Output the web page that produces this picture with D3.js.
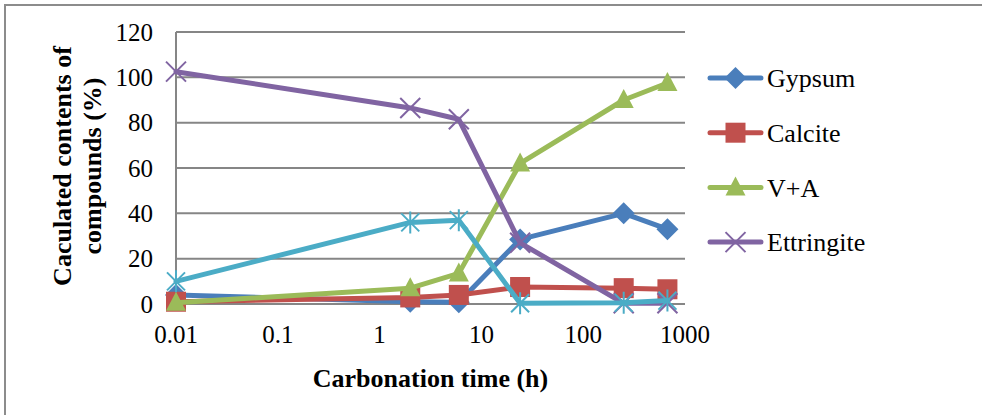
<!DOCTYPE html>
<html>
<head>
<meta charset="utf-8">
<script src="https://cdn.jsdelivr.net/npm/d3@7"></script>
<style>
  body { margin: 0; background: #fff; }
  svg text { font-family: "Times New Roman", "Liberation Serif", "DejaVu Serif", serif; }
</style>
</head>
<body>
<div id="chart"></div>
<script>
const hours = [0.01, 2, 6, 24, 250, 672];
const gypsum = [4, 1, 0.8, 28.5, 40, 33];
const calcite = [1, 2.9, 4, 7.5, 7, 6.5];
const vPlusA = [0.5, 7, 13.5, 62, 90, 97.5];
const ettringite = [102.5, 86.5, 81.5, 27, 0.3, 0.3];
const series5 = [10, 36, 37, 0.3, 0.5, 1.5];
const xTicks = [0.01, 0.1, 1, 10, 100, 1000];
const yTicks = [0, 20, 40, 60, 80, 100, 120];

const series = [
  { name: "Gypsum", values: gypsum, color: "#4a7ebb", marker: "diamond", legend: true },
  { name: "Calcite", values: calcite, color: "#c0504d", marker: "square", legend: true },
  { name: "V+A", values: vPlusA, color: "#9bbb59", marker: "triangle", legend: true },
  { name: "Ettringite", values: ettringite, color: "#8064a2", marker: "cross", legend: true },
  { name: "Series5", values: series5, color: "#4bacc6", marker: "star", legend: false },
];

const width = 982, height = 415;
const plot = { left: 176, right: 685, top: 32, bottom: 304 };

const svg = d3.select("#chart").append("svg")
  .attr("width", width).attr("height", height)
  .style("display", "block");

// outer chart border (only top and left visible)
svg.append("path")
  .attr("d", `M5,${height + 5}V5H${width + 5}`)
  .attr("fill", "none").attr("stroke", "#8c8c8c").attr("stroke-width", 2);

const x = d3.scaleLog().domain([0.01, 1000]).range([plot.left, plot.right]);
const y = d3.scaleLinear().domain([0, 120]).range([plot.bottom, plot.top]);

// gridlines
svg.append("g").selectAll("line").data(yTicks).join("line")
  .attr("x1", plot.left).attr("x2", plot.right)
  .attr("y1", d => y(d)).attr("y2", d => y(d))
  .attr("stroke", "#868686").attr("stroke-width", 2);

svg.append("line")
  .attr("x1", plot.left).attr("x2", plot.left)
  .attr("y1", plot.top).attr("y2", plot.bottom)
  .attr("stroke", "#868686").attr("stroke-width", 2);

// tick labels
svg.append("g").selectAll("text").data(yTicks).join("text")
  .attr("x", 153).attr("y", d => y(d))
  .attr("dy", "0.35em")
  .attr("text-anchor", "end")
  .attr("font-size", 25)
  .text(d => d);

svg.append("g").selectAll("text").data(xTicks).join("text")
  .attr("x", d => x(d)).attr("y", 343)
  .attr("text-anchor", "middle")
  .attr("font-size", 25)
  .text(d => d);

// axis titles
svg.append("text")
  .attr("x", (plot.left + plot.right) / 2).attr("y", 387)
  .attr("text-anchor", "middle")
  .attr("font-size", 26).attr("font-weight", "bold")
  .text("Carbonation time (h)");

const yTitle = svg.append("text")
  .attr("transform", "translate(71,166) rotate(-90)")
  .attr("text-anchor", "middle")
  .attr("font-size", 26).attr("font-weight", "bold");
yTitle.append("tspan").attr("x", 0).attr("dy", 0).text("Caculated contents of");
yTitle.append("tspan").attr("x", 0).attr("dy", 30).text("compounds (%)");

// marker drawing
function drawMarker(g, type, color, cx, cy) {
  if (type === "diamond") {
    g.append("path").attr("d", `M${cx},${cy - 11}L${cx + 11},${cy}L${cx},${cy + 11}L${cx - 11},${cy}Z`)
      .attr("fill", color);
  } else if (type === "square") {
    g.append("rect").attr("x", cx - 10).attr("y", cy - 10).attr("width", 20).attr("height", 20)
      .attr("fill", color);
  } else if (type === "triangle") {
    g.append("path").attr("d", `M${cx},${cy - 11}L${cx + 10},${cy + 8}L${cx - 10},${cy + 8}Z`)
      .attr("fill", color);
  } else if (type === "cross") {
    g.append("path").attr("d", `M${cx - 10},${cy - 10}L${cx + 10},${cy + 10}M${cx - 10},${cy + 10}L${cx + 10},${cy - 10}`)
      .attr("stroke", color).attr("stroke-width", 2);
  } else if (type === "star") {
    g.append("path").attr("d", `M${cx - 9},${cy - 9}L${cx + 9},${cy + 9}M${cx - 9},${cy + 9}L${cx + 9},${cy - 9}M${cx},${cy - 11}L${cx},${cy + 11}`)
      .attr("stroke", color).attr("stroke-width", 2);
  }
}

const line = d3.line().x((d, i) => x(hours[i])).y(d => y(d));

series.forEach(s => {
  const g = svg.append("g");
  g.append("path")
    .attr("d", line(s.values))
    .attr("fill", "none")
    .attr("stroke", s.color)
    .attr("stroke-width", 5)
    .attr("stroke-linejoin", "round")
    .attr("stroke-linecap", "round");
  s.values.forEach((v, i) => drawMarker(g, s.marker, s.color, x(hours[i]), y(v)));
});

// legend
const legendRows = series.filter(s => s.legend);
legendRows.forEach((s, i) => {
  const ly = 78 + i * 54.7;
  const g = svg.append("g");
  g.append("line")
    .attr("x1", 710).attr("x2", 761).attr("y1", ly).attr("y2", ly)
    .attr("stroke", s.color).attr("stroke-width", 5).attr("stroke-linecap", "round");
  drawMarker(g, s.marker, s.color, 735.5, ly);
  g.append("text")
    .attr("x", 767).attr("y", ly).attr("dy", "0.35em")
    .attr("font-size", 26)
    .text(s.name);
});
</script>
</body>
</html>
